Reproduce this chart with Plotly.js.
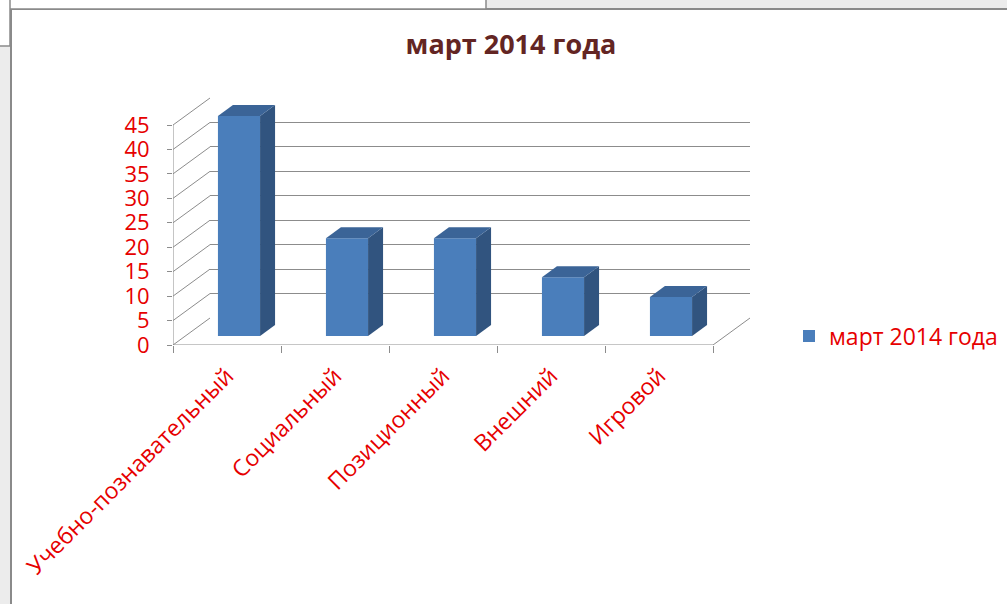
<!DOCTYPE html>
<html>
<head>
<meta charset="utf-8">
<script src="https://cdn.plot.ly/plotly-3.0.1.min.js"></script>
<style>html,body{margin:0;padding:0;background:#fff;}#chart{width:1007px;height:604px;}</style>
</head>
<body>
<div id="chart"></div>
<script>
// ---- data ----
const categories = ['Учебно-познавательный', 'Социальный', 'Позиционный', 'Внешний', 'Игровой'];
const values = [45, 20, 20, 12, 8];
const yTicks = [0, 5, 10, 15, 20, 25, 30, 35, 40, 45];
const seriesName = 'март 2014 года';
const chartTitle = 'март 2014 года';

// ---- geometry (pixels) ----
const L = 173, R = 750, T = 70, B = 345;
const W = R - L, H = B - T;
const catPx = 108;            // pixels per category on the front axis
const unitPx = 220 / 45;      // pixels per value unit
const depthX = 37, depthY = 27; // full depth offset of the 3D box
const barDX = 12, barDY = 9;    // bar front face offset inside depth
const barW = 0.39;
const sideDX = 15 / catPx, sideDY = 11 / unitPx;
const nCat = categories.length;
const xr = [-0.5, nCat - 0.5];

const red = '#E60000';
const gridCol = '#8c8c8c';

const traces = [];

// front face of bars
traces.push({
  type: 'bar', x: categories.map((c, i) => i), y: values, width: barW,
  xaxis: 'x2', yaxis: 'y2', name: seriesName,
  marker: {color: '#4A7EBB', line: {width: 0}}, hoverinfo: 'y', showlegend: true
});
// side and top faces
values.forEach((v, i) => {
  const xl = i - barW / 2, xrr = i + barW / 2;
  traces.push({
    type: 'scatter', mode: 'lines', xaxis: 'x2', yaxis: 'y2', showlegend: false, hoverinfo: 'skip',
    x: [xrr, xrr, xrr + sideDX, xrr + sideDX, xrr], y: [0, v, v + sideDY, sideDY, 0],
    fill: 'toself', fillcolor: '#31547F', line: {width: 0}
  });
  traces.push({
    type: 'scatter', mode: 'lines', xaxis: 'x2', yaxis: 'y2', showlegend: false, hoverinfo: 'skip',
    x: [xl, xrr, xrr + sideDX, xl + sideDX, xl], y: [v, v, v + sideDY, v + sideDY, v],
    fill: 'toself', fillcolor: '#3B6497', line: {width: 0}
  });
});

// wireframe of side wall and floor on front axes (x3/y3)
const dXu = depthX / catPx, dYu = depthY / unitPx;
const wx = [], wy = [];
const seg = (a, b, c, d) => { wx.push(a, c, null); wy.push(b, d, null); };
seg(-0.5, 0, -0.5, yTicks[yTicks.length - 1]);
seg(-0.5, 0, nCat - 0.5, 0);
yTicks.forEach(v => seg(-0.5, v, -0.5 + dXu, v + dYu));
seg(nCat - 0.5, 0, nCat - 0.5 + dXu, dYu);
traces.push({type: 'scatter', mode: 'lines', x: wx, y: wy, xaxis: 'x3', yaxis: 'y3',
  showlegend: false, hoverinfo: 'skip', line: {color: gridCol, width: 1}, connectgaps: false});

// tiny invisible trace to host back wall axes
traces.push({type: 'scatter', mode: 'markers', x: [0], y: [0], xaxis: 'x', yaxis: 'y',
  showlegend: false, hoverinfo: 'skip', marker: {opacity: 0}});

const fx = px => (px - L) / W;
const fy = py => (B - py) / H;

const layout = {
  width: 1007, height: 604,
  margin: {l: L, r: 1007 - R, t: T, b: 604 - B, pad: 0, autoexpand: false},
  paper_bgcolor: '#ececec', plot_bgcolor: 'rgba(0,0,0,0)',
  font: {family: 'Open Sans, sans-serif', color: red},
  title: {text: chartTitle, x: 511 / 1007, xref: 'container', xanchor: 'center', y: 1 - 45 / 604, yanchor: 'middle',
    font: {family: 'Open Sans, sans-serif', size: 27, color: '#632523', weight: 'bold'}},
  showlegend: true,
  legend: {x: fx(789), xanchor: 'left', y: fy(336), yanchor: 'middle', bgcolor: 'rgba(0,0,0,0)',
    font: {size: 23, color: red}, itemwidth: 30},
  // back wall
  xaxis: {domain: [depthX / W, 1], range: xr, showgrid: false, zeroline: false, showticklabels: false, fixedrange: true},
  yaxis: {domain: [depthY / H, (depthY + 45 * unitPx) / H], range: [0, 45], tickmode: 'array', tickvals: yTicks,
    showgrid: true, gridcolor: gridCol, gridwidth: 1, zeroline: false, showticklabels: false, fixedrange: true},
  // bars
  xaxis2: {domain: [barDX / W, (nCat * catPx + barDX) / W], range: xr, anchor: 'y2', visible: false, fixedrange: true},
  yaxis2: {domain: [barDY / H, 1], range: [0, (H - barDY) / unitPx], anchor: 'x2', visible: false, fixedrange: true},
  // front axes
  xaxis3: {domain: [0, 1], range: [-0.5, -0.5 + W / catPx], anchor: 'y3', showgrid: false, zeroline: false,
    tickmode: 'array', tickvals: categories.map((c, i) => i), ticktext: categories, ticks: '',
    tickangle: -45, tickfont: {size: 23, color: red}, ticklabelstandoff: 12, automargin: false,
    minor: {tickmode: 'array', tickvals: Array.from({length: nCat + 1}, (_, k) => k - 0.5),
      ticks: 'outside', ticklen: 7, tickcolor: gridCol, showgrid: false}, fixedrange: true},
  yaxis3: {domain: [0, 1], range: [0, H / unitPx], anchor: 'x3', showgrid: false, zeroline: false,
    tickmode: 'array', tickvals: yTicks, ticks: 'outside', ticklen: 5, tickcolor: gridCol, automargin: false,
    tickfont: {size: 22, color: red}, ticklabelstandoff: 13, fixedrange: true},
  shapes: [
    {type: 'rect', xref: 'paper', yref: 'paper', x0: fx(11), x1: fx(1030), y0: fy(9), y1: fy(630),
      fillcolor: '#ffffff', line: {color: '#8a8a8a', width: 2}, layer: 'below'},
    {type: 'rect', xref: 'paper', yref: 'paper', x0: fx(-5), x1: fx(486), y0: fy(-5), y1: fy(9),
      fillcolor: '#ffffff', line: {color: '#8a8a8a', width: 1.5}, layer: 'below'},
    {type: 'rect', xref: 'paper', yref: 'paper', x0: fx(-5), x1: fx(10), y0: fy(-5), y1: fy(46),
      fillcolor: '#ffffff', line: {color: '#8a8a8a', width: 1.5}, layer: 'below'}
  ]
};

Plotly.newPlot('chart', traces, layout, {displayModeBar: false, staticPlot: true});
</script>
</body>
</html>
